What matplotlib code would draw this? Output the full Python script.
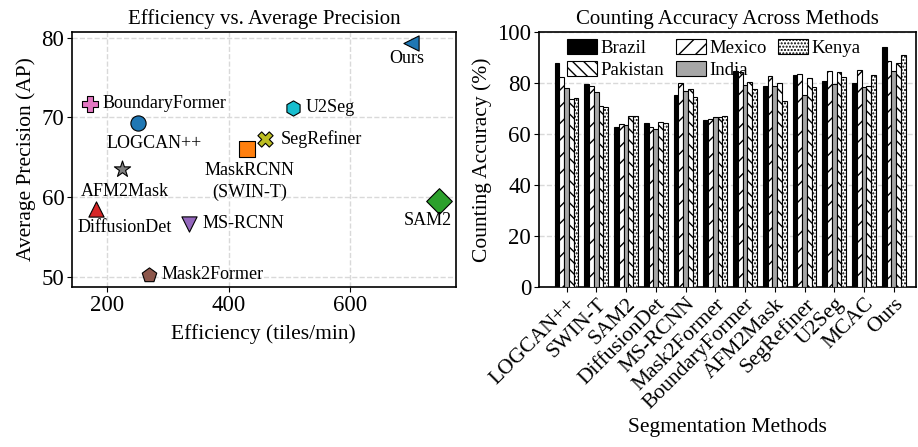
import numpy as np
import matplotlib
matplotlib.use('Agg')
import matplotlib.pyplot as plt

plt.rcParams['font.family'] = ['Liberation Serif', 'DejaVu Serif']
plt.rcParams['hatch.linewidth'] = 1.0

# --- scatter data: efficiency vs AP ---
sc_methods = ["LOGCAN++", "MaskRCNN\n(SWIN-T)", "SAM2", "DiffusionDet", "MS-RCNN",
              "Mask2Former", "BoundaryFormer", "AFM2Mask", "SegRefiner", "U2Seg", "Ours"]
sc_eff = [251, 430, 745, 182, 335, 269, 172, 225, 460, 506, 700]
sc_ap = [69.3, 66.0, 59.5, 58.5, 56.7, 50.3, 71.7, 63.5, 67.3, 71.2, 79.3]
sc_markers = ['o', 's', 'D', '^', 'v', 'p', 'P', '*', 'X', 'h', '<']
# label offsets (points)
sc_offsets = [(12, -15), (2, -23), (-8, -14), (21, -13), (10, 0), (9, 0),
              (9, 0), (2, -16), (11, 0), (9, 0), (-3, -11)]
sc_ha = ['center', 'center', 'center', 'center', 'left', 'left',
         'left', 'center', 'left', 'left', 'center']

# --- bar data: counting accuracy ---
bar_methods = ["LOGCAN++", "SWIN-T", "SAM2", "DiffusionDet", "MS-RCNN", "Mask2Former",
               "BoundaryFormer", "AFM2Mask", "SegRefiner", "U2Seg", "MCAC", "Ours"]
brazil = [87.7, 79.7, 62.6, 64.4, 75.3, 65.3, 84.8, 78.8, 83.1, 80.7, 80.1, 94.0]
mexico = [82.4, 78.7, 64.1, 62.7, 80.1, 65.7, 84.4, 82.7, 83.4, 84.5, 85.0, 88.6]
india = [77.9, 76.4, 63.5, 61.8, 76.8, 66.7, 79.2, 78.8, 75.1, 79.4, 78.5, 84.7]
pakistan = [73.6, 70.9, 67.0, 64.6, 77.8, 66.8, 80.5, 79.8, 82.1, 84.4, 79.0, 88.0]
kenya = [74.2, 70.6, 67.0, 64.3, 74.6, 67.2, 77.7, 73.1, 78.4, 82.3, 83.0, 91.0]

fig = plt.figure(figsize=(9.18, 4.47), dpi=100)

# ---------------- left: scatter ----------------
ax1 = fig.add_axes([0.0784, 0.358, 0.418, 0.5705])
colors = [f"C{i % 10}" for i in range(len(sc_methods))]
for i, name in enumerate(sc_methods):
    size = 120
    if sc_markers[i] == 'D':
        size = 170
    elif sc_markers[i] == '*':
        size = 150
    ax1.scatter(sc_eff[i], sc_ap[i], marker=sc_markers[i], s=size, color=colors[i],
                edgecolor='black', linewidth=0.8, zorder=3)
    ax1.annotate(name, (sc_eff[i], sc_ap[i]), xytext=sc_offsets[i], textcoords='offset points',
                 ha=sc_ha[i], va='center', fontsize=13, linespacing=1.35)

ax1.set_xlim(143, 773)
ax1.set_ylim(48.75, 80.7)
ax1.set_xticks([200, 400, 600])
ax1.set_yticks([50, 60, 70, 80])
ax1.grid(True, linestyle='--', color='#d9d9d9', linewidth=1.0)
ax1.set_axisbelow(True)
ax1.tick_params(labelsize=16.5, pad=2)
ax1.set_xlabel("Efficiency (tiles/min)", fontsize=15.5, labelpad=6)
ax1.set_ylabel("Average Precision (AP)", fontsize=15.5)
ax1.set_title("Efficiency vs. Average Precision", fontsize=15)
for sp in ax1.spines.values():
    sp.set_linewidth(1.2)

# ---------------- right: grouped bars ----------------
ax2 = fig.add_axes([0.587, 0.358, 0.411, 0.5705])
x = np.arange(len(bar_methods))
w = 0.16
series = [("Brazil", brazil, 'black', None),
          ("Mexico", mexico, 'white', '//'),
          ("India", india, '#a6a6a6', None),
          ("Pakistan", pakistan, 'white', '\\\\\\'),
          ("Kenya", kenya, 'white', '.....')]
handles = {}
for k, (name, vals, fc, hatch) in enumerate(series):
    b = ax2.bar(x + (k - 2) * w, vals, w, color=fc, edgecolor='black', linewidth=0.8,
                hatch=hatch, label=name, zorder=3)
    handles[name] = b

order = ["Brazil", "Pakistan", "Mexico", "India", "Kenya"]
ax2.legend([handles[n] for n in order], order, ncol=3, loc='upper left',
           bbox_to_anchor=(0.035, 1.03), frameon=False, fontsize=13.5,
           handlelength=1.6, handleheight=0.85, handletextpad=0.2,
           columnspacing=0.6, labelspacing=0.2, borderaxespad=0.4)

ax2.set_xlim(-0.93, 11.75)
ax2.set_ylim(0, 100)
ax2.set_xticks(x)
ax2.set_xticklabels(bar_methods, rotation=45, ha='right', rotation_mode='anchor')
ax2.yaxis.grid(True, linestyle='--', color='#d9d9d9', linewidth=1.0)
ax2.set_axisbelow(True)
ax2.tick_params(axis='y', labelsize=16.5, pad=2)
ax2.tick_params(axis='x', labelsize=15.5, pad=2)
ax2.set_xlabel("Segmentation Methods", fontsize=15.5)
ax2.set_ylabel("Counting Accuracy (%)", fontsize=15.5)
ax2.set_title("Counting Accuracy Across Methods", fontsize=15)
for sp in ax2.spines.values():
    sp.set_linewidth(1.2)

fig.savefig("out.png", dpi=100)
